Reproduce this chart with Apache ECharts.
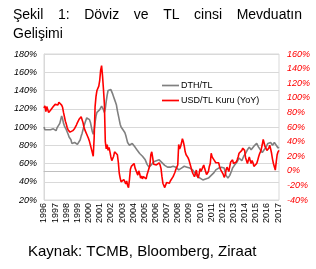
<!DOCTYPE html>
<html>
<head>
<meta charset="utf-8">
<script src="https://cdn.jsdelivr.net/npm/echarts@6/dist/echarts.min.js"></script>
<style>
html,body{margin:0;padding:0;background:#fff;}
#chart{width:316px;height:269px;}
</style>
</head>
<body>
<div id="chart"></div>
<script>
// ---- Data (monthly, Jan 1996 .. Feb 2017) ----
const startYear = 1996;
const titleLine1Words = ["Şekil", "1:", "Döviz", "ve", "TL", "cinsi", "Mevduatın"];
const titleLine2 = "Gelişimi";
const sourceText = "Kaynak: TCMB, Bloomberg, Ziraat";
const seriesNames = ["DTH/TL", "USD/TL Kuru (YoY)"];
const leftTicks = [20, 180, 20];   // min, max, step
const rightTicks = [-40, 160, 20]; // min, max, step

const dthTL = [
  100, 97, 98, 96, 97, 98, 96, 97, 99, 97, 98, 97,        // 1996
  98, 96, 99, 98, 100, 104, 108, 112, 109, 104, 101, 99,  // 1997
  97, 95, 92, 89, 90, 86, 82, 84, 81, 83, 84, 82,         // 1998
  81, 80, 82, 86, 90, 93, 97, 101, 104, 107, 110, 109,    // 1999
  110, 108, 105, 100, 95, 92, 97, 105, 112, 116, 117, 118,// 2000
  119, 121, 123, 122, 119, 116, 120, 128, 135, 140, 142, 142, // 2001
  141, 139, 136, 133, 130, 127, 124, 118, 113, 108, 103, 100, // 2002
  99, 97, 98, 94, 91, 87, 83, 82, 80, 79, 81, 82,         // 2003
  81, 80, 78, 77, 75, 76, 74, 71, 69, 70, 68, 67,         // 2004
  66, 64, 62, 59, 58, 56, 54, 55, 59, 61, 62, 61,         // 2005
  62, 63, 64, 63, 64, 62, 63, 61, 60, 59, 58, 57,         // 2006
  57, 56, 58, 57, 56, 57, 58, 57, 56, 55, 56, 55,         // 2007
  54, 53, 53, 54, 55, 54, 56, 57, 56, 55, 56, 55,         // 2008
  54, 55, 54, 54, 53, 52, 50, 49, 48, 46, 45, 44,         // 2009
  44, 43, 43, 42, 43, 42, 43, 44, 43, 44, 45, 46,         // 2010
  47, 48, 49, 50, 51, 53, 54, 53, 55, 56, 57, 56,         // 2011
  57, 58, 55, 51, 47, 45, 44, 45, 47, 49, 52, 55,         // 2012
  56, 58, 59, 60, 62, 64, 66, 65, 64, 63, 65, 68,         // 2013
  69, 71, 73, 75, 77, 78, 76, 75, 75, 77, 79, 80,         // 2014
  81, 82, 80, 78, 76, 75, 74, 72, 73, 75, 77, 78,         // 2015
  80, 82, 83, 84, 83, 81, 80, 81, 83, 82, 80, 79,         // 2016
  77, 78                                                  // 2017
];

const usdTLYoY = [
  86, 89, 81, 88, 84, 80, 79, 83, 85, 84, 88, 90,         // 1996
  91, 93, 92, 90, 94, 92, 93, 90, 87, 80, 74, 68,         // 1997
  64, 59, 56, 54, 53, 52, 54, 55, 57, 58, 60, 63,         // 1998
  66, 68, 71, 73, 74, 70, 66, 60, 56, 53, 50, 47,         // 1999
  44, 40, 35, 30, 25, 20, 45, 88, 102, 110, 108, 116,     // 2000
  124, 138, 144, 130, 112, 92, 40, 30, 36, 28, 32, 26,    // 2001
  19, 14, 12, 20, 26, 24, 28, 22, 12, -3, -10, -15,       // 2002
  -14, -17, -12, -15, -18, -14, -20, -23, -12, 2, 6, 4,   // 2003
  5, 10, 4, 6, 3, -6, 0, -4, -10, -7, -11, -8,            // 2004
  -6, -10, -11, -5, -1, 3, 8, 22, 26, 18, 9, 7,           // 2005
  11, 8, 10, 9, 11, 8, 3, -8, -17, -20, -23, -21,         // 2006
  -16, -18, -15, -17, -14, -16, -12, -8, -5, -2, 2, 5,    // 2007
  8, 36, 30, 33, 38, 44, 40, 34, 26, 22, 24, 18,          // 2008
  15, 14, 6, 1, -3, -5, -8, -4, 1, -6, -10, -4,           // 2009
  3, -1, -3, 5, 8, 3, 1, -5, -3, -1, 6, 10,               // 2010
  24, 19, 17, 15, 13, 11, 10, 13, 11, 6, 2, 4,            // 2011
  2, -5, -9, -6, 1, 5, 3, -1, 6, 12, 14, 15,              // 2012
  10, 8, 10, 12, 15, 19, 24, 26, 25, 28, 31, 29,          // 2013
  28, 18, 14, 10, 12, 19, 14, 10, 14, 11, 6, 8,           // 2014
  8, 10, 14, 19, 23, 26, 30, 36, 43, 38, 33, 31,          // 2015
  28, 26, 31, 35, 30, 24, 16, 10, 8, 1, 12, 22,           // 2016
  26, 28                                                  // 2017
];

// month categories built from the start year
const months = dthTL.map(function (_, i) {
  const y = startYear + Math.floor(i / 12);
  const m = (i % 12) + 1;
  return y + "-" + (m < 10 ? "0" + m : m);
});

// ---- Layout / styling ----
const FONT = "'Liberation Sans', Arial, sans-serif";
const chart = echarts.init(document.getElementById('chart'), null, {renderer: 'canvas'});

// justify the first title line across the width
const cv = document.createElement('canvas').getContext('2d');
const titleFontSize = 14;
cv.font = titleFontSize + "px 'Liberation Sans', Arial";
const tLeft = 13, tRight = 302;
const widths = titleLine1Words.map(w => cv.measureText(w).width);
const totalW = widths.reduce((a, b) => a + b, 0);
const gap = (tRight - tLeft - totalW) / (titleLine1Words.length - 1);
const graphics = [];
let cx = tLeft;
titleLine1Words.forEach(function (w, i) {
  graphics.push({
    type: 'text', x: cx, y: 15.6,
    style: {text: w, font: titleFontSize + "px " + FONT, fill: '#000', verticalAlign: 'middle', align: 'left'}
  });
  cx += widths[i] + gap;
});
graphics.push({
  type: 'text', x: tLeft, y: 34.2,
  style: {text: titleLine2, font: titleFontSize + "px " + FONT, fill: '#000', verticalAlign: 'middle', align: 'left'}
});
graphics.push({
  type: 'text', x: 28, y: 251.5,
  style: {text: sourceText, font: "15px " + FONT, fill: '#000', verticalAlign: 'middle', align: 'left'}
});

const lineIcon = 'path://M0,0 L20,0 L20,2 L0,2 Z';

const option = {
  animation: false,
  backgroundColor: '#fff',
  graphic: graphics,
  grid: {
    left: 44, right: 37, top: 54, bottom: 69,
    show: true, borderColor: '#d9d9d9', borderWidth: 1, containLabel: false
  },
  legend: {
    orient: 'vertical',
    left: 157, top: 76,
    itemWidth: 17, itemHeight: 2, itemGap: 6,
    textStyle: {fontFamily: FONT, fontSize: 9, color: '#000', padding: [0, 0, 0, -3]},
    data: [
      {name: seriesNames[0], icon: lineIcon},
      {name: seriesNames[1], icon: lineIcon}
    ]
  },
  xAxis: {
    type: 'category',
    data: months,
    boundaryGap: false,
    axisLine: {show: true, lineStyle: {color: '#bfbfbf'}},
    axisTick: {show: false},
    axisLabel: {
      interval: function (idx) { return idx % 12 === 0; },
      formatter: function (v) { return v.slice(0, 4); },
      rotate: 90,
      margin: 3,
      fontFamily: FONT, fontSize: 9, color: '#000'
    },
    splitLine: {show: false}
  },
  yAxis: [
    {
      type: 'value',
      min: leftTicks[0], max: leftTicks[1], interval: leftTicks[2],
      axisLine: {show: true, lineStyle: {color: '#d9d9d9'}},
      axisTick: {show: false},
      axisLabel: {formatter: '{value}%', fontFamily: FONT, fontSize: 9, fontStyle: 'italic', color: '#000', margin: 7},
      splitLine: {show: true, lineStyle: {color: '#d9d9d9', width: 1}}
    },
    {
      type: 'value',
      min: rightTicks[0], max: rightTicks[1], interval: rightTicks[2],
      position: 'right',
      axisLine: {show: false},
      axisTick: {show: false},
      axisLabel: {formatter: '{value}%', fontFamily: FONT, fontSize: 9, fontStyle: 'italic', color: '#ff0000', margin: 8},
      splitLine: {show: false}
    }
  ],
  series: [
    {
      name: seriesNames[0], type: 'line', yAxisIndex: 0,
      data: dthTL, showSymbol: false, symbol: 'none',
      lineStyle: {color: '#808080', width: 1.6}, itemStyle: {color: '#808080'}
    },
    {
      name: seriesNames[1], type: 'line', yAxisIndex: 1,
      data: usdTLYoY, showSymbol: false, symbol: 'none',
      lineStyle: {color: '#ff0000', width: 1.6}, itemStyle: {color: '#ff0000'}
    }
  ]
};
chart.setOption(option);
</script>
</body>
</html>
